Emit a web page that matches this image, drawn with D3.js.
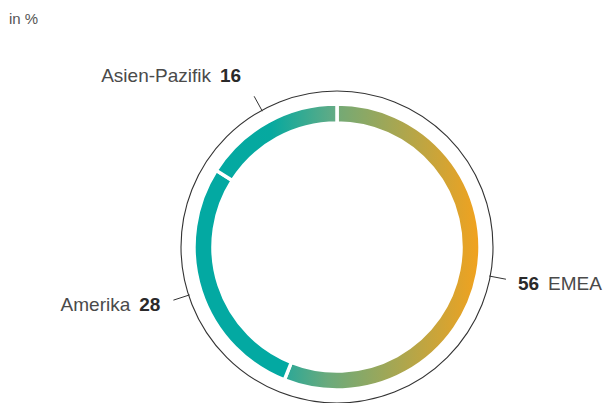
<!DOCTYPE html>
<html>
<head>
<meta charset="utf-8">
<script src="https://cdn.jsdelivr.net/npm/d3@7"></script>
<style>
  body { margin: 0; background: #fff; }
  svg { font-family: "Liberation Sans", Arial, sans-serif; }
</style>
</head>
<body>
<div id="chart"></div>
<script>
// data
const regions = ['EMEA', 'Amerika', 'Asien-Pazifik'];
const shares = [56, 28, 16];
const unitLabel = 'in %';

const width = 608;
const height = 403;
const cx = 337;
const cy = 247;

const svg = d3.select('#chart')
    .append('svg')
    .attr('width', width)
    .attr('height', height);

// gradients per segment
const defs = svg.append('defs');
const gradients = {
    'EMEA': [['0%', '#2aa898'], ['22%', '#6aaa7c'], ['100%', '#f2a21e']],
    'Amerika': [['0%', '#03a9a2'], ['100%', '#03a9a2']],
    'Asien-Pazifik': [['0%', '#03a9a2'], ['45%', '#06a99f'], ['100%', '#66ab84']]
};
regions.forEach((r, i) => {
    const g = defs.append('linearGradient')
        .attr('id', 'grad' + i)
        .attr('x1', '0%').attr('x2', '100%')
        .attr('y1', '0%').attr('y2', '0%');
    gradients[r].forEach(s => g.append('stop').attr('offset', s[0]).attr('stop-color', s[1]));
});

const chart = svg.append('g')
    .attr('transform', `translate(${cx}, ${cy})`);

const data = regions.map((r, i) => ({ region: r, value: shares[i], idx: i }));

const pie = d3.pie()
    .value(d => d.value)
    .sort(null);

const arc = d3.arc()
    .innerRadius(124)
    .outerRadius(143);

const arcs = pie(data);

chart.selectAll('path.seg')
    .data(arcs)
    .enter()
    .append('path')
    .attr('class', 'seg')
    .attr('d', arc)
    .attr('fill', d => `url(#grad${d.data.idx})`)
    .attr('stroke', '#fff')
    .attr('stroke-width', 3.5);

// outer thin circle
chart.append('circle')
    .attr('r', 156)
    .attr('fill', 'none')
    .attr('stroke', '#333')
    .attr('stroke-width', 1.1);

// ticks
const rIn = 155;
const rOut = 172;
const mid = d => (d.startAngle + d.endAngle) / 2;

chart.selectAll('line.tick')
    .data(arcs)
    .enter()
    .append('line')
    .attr('class', 'tick')
    .attr('x1', d => rIn * Math.sin(mid(d)))
    .attr('y1', d => -rIn * Math.cos(mid(d)))
    .attr('x2', d => rOut * Math.sin(mid(d)))
    .attr('y2', d => -rOut * Math.cos(mid(d)))
    .attr('stroke', '#333')
    .attr('stroke-width', 1);

// labels
const labels = chart.selectAll('text.lbl')
    .data(arcs)
    .enter()
    .append('text')
    .attr('class', 'lbl')
    .attr('font-size', 19)
    .attr('fill', '#4a4a4a')
    .attr('x', d => {
        const x = rOut * Math.sin(mid(d));
        return x < 0 ? x - 13 : x + 12;
    })
    .attr('y', d => {
        const y = -rOut * Math.cos(mid(d));
        return Math.cos(mid(d)) > 0.7 ? y - 14 : y + 11;
    })
    .attr('text-anchor', d => Math.sin(mid(d)) < 0 ? 'end' : 'start');

labels.each(function(d) {
    const t = d3.select(this);
    if (Math.sin(mid(d)) < 0) {
        t.append('tspan').text(d.data.region);
        t.append('tspan').attr('dx', 9).attr('font-weight', 'bold').attr('fill', '#2a2a2a').text(d.data.value);
    } else {
        t.append('tspan').attr('font-weight', 'bold').attr('fill', '#2a2a2a').text(d.data.value);
        t.append('tspan').attr('dx', 9).text(d.data.region);
    }
});

svg.append('text')
    .attr('x', 9)
    .attr('y', 24)
    .attr('font-size', 15)
    .attr('fill', '#555')
    .text(unitLabel);
</script>
</body>
</html>
